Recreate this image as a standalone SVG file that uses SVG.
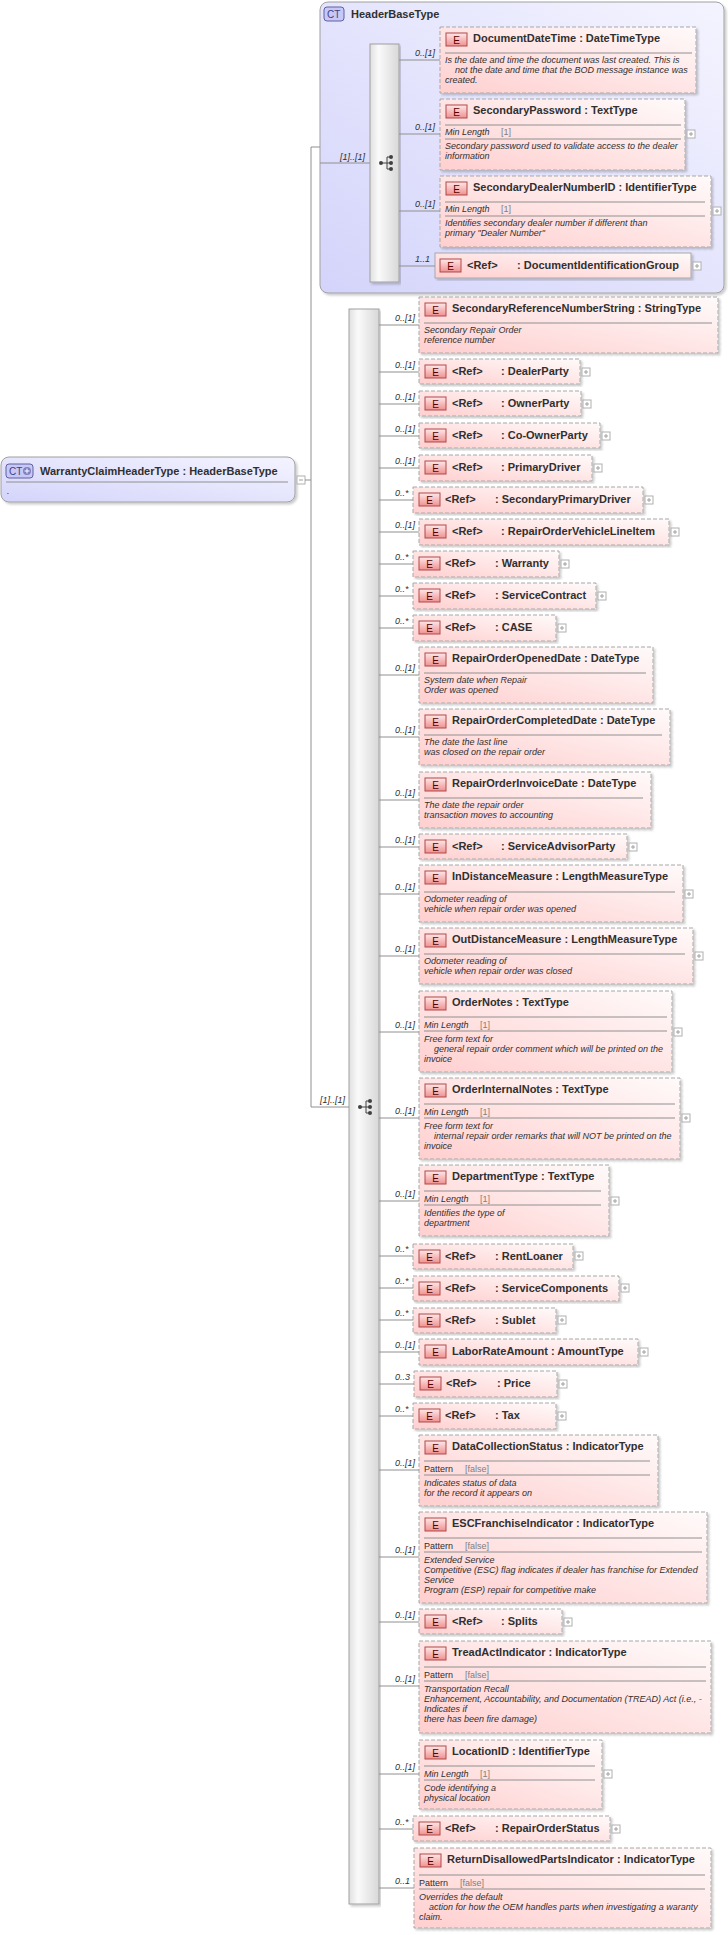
<svg xmlns="http://www.w3.org/2000/svg" xmlns:xlink="http://www.w3.org/1999/xlink" width="728" height="1935" viewBox="0 0 728 1935">
<style>
.el{fill:url(#eg);stroke:#a8a8a8;stroke-dasharray:4 2}
.sol{stroke-dasharray:none}
.ei{fill:url(#eig);stroke:#b04848}
.eit{font:10px "Liberation Sans",Arial,sans-serif;text-anchor:middle;fill:#500}
.t{font:bold 11px "Liberation Sans",Arial,sans-serif;fill:#303030}
.d{font:italic 9px "Liberation Sans",Arial,sans-serif;fill:#303030}
.fv{font:9px "Liberation Sans",Arial,sans-serif;fill:#808080}
.sep{stroke:#909090}
.c{stroke:#909090;fill:none}
.lab{font:italic 9px "Liberation Sans",Arial,sans-serif;fill:#303030}
.seq{fill:url(#sg);stroke:#a0a0a0}
.ct{fill:url(#cg);stroke:#a0a0a0}
</style>
<defs>
<linearGradient id="eg" x1="0" y1="1" x2="1" y2="0"><stop offset="0" stop-color="#ffcfcf"/><stop offset="1" stop-color="#fffafa"/></linearGradient>
<linearGradient id="eig" x1="0" y1="0" x2="0" y2="1"><stop offset="0" stop-color="#ffe8e8"/><stop offset="1" stop-color="#f09090"/></linearGradient>
<linearGradient id="sg" x1="0" y1="0" x2="1" y2="0"><stop offset="0" stop-color="#e0e0e0"/><stop offset="0.3" stop-color="#fafafa"/><stop offset="1" stop-color="#d8d8d8"/></linearGradient>
<linearGradient id="cg" x1="0" y1="1" x2="1" y2="0"><stop offset="0" stop-color="#d4d4fb"/><stop offset="1" stop-color="#f4f4ff"/></linearGradient>
<g id="pl"><rect x="0" y="0" width="8" height="8" fill="#fff" stroke="#b0b0b0"/><path d="M2 4h4M4 2v4" stroke="#a0a0a0"/></g>
<g id="sqi"><circle cx="-6" cy="0" r="2" fill="#404040"/><path d="M-6 0h6M0 -6v12M0 -6h4M0 0h4M0 6h4" stroke="#404040" fill="none"/><circle cx="4" cy="-6" r="2" fill="#404040"/><circle cx="4" cy="0" r="2" fill="#404040"/><circle cx="4" cy="6" r="2" fill="#404040"/></g>
<filter id="sh" x="-5%" y="-5%" width="110%" height="115%"><feDropShadow dx="2" dy="2" stdDeviation="1" flood-color="#000" flood-opacity="0.2"/></filter>
</defs>

<g id="WarrantyClaimHeaderType">
<rect x="1" y="457" width="294" height="45" rx="8" class="ct" filter="url(#sh)"/>
<rect x="6" y="464" width="27" height="14" rx="3" fill="#c8c8f8" stroke="#6060a0"/>
<text x="9" y="475" style="font:10px 'Liberation Sans',Arial,sans-serif;fill:#404080">CT</text>
<circle cx="27" cy="471" r="4" fill="#8080c0"/><path d="M24.5 471h5M27 468.5v5" stroke="#fff"/>
<text class="t" x="40" y="475">WarrantyClaimHeaderType : HeaderBaseType</text>
<line class="sep" x1="6" y1="482" x2="288" y2="482"/>
<text class="d" x="7" y="494">.</text>
<rect x="297" y="476" width="8" height="8" fill="#fff" stroke="#b0b0b0"/><path d="M299 480h4" stroke="#a0a0a0"/>
</g>

<g id="HeaderBaseType">
<rect x="320" y="2" width="404" height="291" rx="8" class="ct" filter="url(#sh)"/>
<rect x="324" y="7" width="20" height="14" rx="3" fill="#c8c8f8" stroke="#6060a0"/>
<text x="327" y="18" style="font:10px 'Liberation Sans',Arial,sans-serif;fill:#404080">CT</text>
<text class="t" x="351" y="18">HeaderBaseType</text>
</g>
<g id="seq1"><rect class="seq" x="370" y="44" width="29" height="238" filter="url(#sh)"/><use xlink:href="#sqi" x="387" y="163"/></g>
<g id="seq2"><rect class="seq" x="349" y="309" width="30" height="1595" filter="url(#sh)"/><use xlink:href="#sqi" x="366" y="1107"/></g>

<g id="DocumentDateTime"><rect class="el" x="440" y="27" width="256" height="66" filter="url(#sh)"/><rect class="ei" x="446" y="33" width="21" height="13"/><text class="eit" x="456.5" y="43.5">E</text><text class="t" x="473" y="42">DocumentDateTime : DateTimeType</text><line class="sep" x1="445" y1="53" x2="692" y2="53"/><text class="d" x="445" y="63">Is the date and time the document was last created. This is</text><text class="d" x="455" y="73">not the date and time that the BOD message instance was</text><text class="d" x="445" y="83">created.</text></g>
<g id="SecondaryPassword"><rect class="el" x="440" y="99" width="245" height="71" filter="url(#sh)"/><rect class="ei" x="446" y="105" width="21" height="13"/><text class="eit" x="456.5" y="115.5">E</text><text class="t" x="473" y="114">SecondaryPassword : TextType</text><line class="sep" x1="445" y1="125" x2="681" y2="125"/><text class="d" x="445" y="135">Min Length</text><text class="fv" x="501" y="135">[1]</text><line class="sep" x1="445" y1="139" x2="681" y2="139"/><text class="d" x="445" y="149">Secondary password used to validate access to the dealer</text><text class="d" x="445" y="159">information</text><use xlink:href="#pl" x="687" y="130"/></g>
<g id="SecondaryDealerNumberID"><rect class="el" x="440" y="176" width="271" height="71" filter="url(#sh)"/><rect class="ei" x="446" y="182" width="21" height="13"/><text class="eit" x="456.5" y="192.5">E</text><text class="t" x="473" y="191">SecondaryDealerNumberID : IdentifierType</text><line class="sep" x1="445" y1="202" x2="705" y2="202"/><text class="d" x="445" y="212">Min Length</text><text class="fv" x="501" y="212">[1]</text><line class="sep" x1="445" y1="216" x2="705" y2="216"/><text class="d" x="445" y="226">Identifies secondary dealer number if different than</text><text class="d" x="445" y="236">primary "Dealer Number"</text><use xlink:href="#pl" x="713" y="207"/></g>
<g id="DocumentIdentificationGroup"><rect class="el sol" x="435" y="253" width="256" height="25" filter="url(#sh)"/><rect class="ei" x="440" y="259" width="21" height="13"/><text class="eit" x="450.5" y="269.5">E</text><text class="t" x="467" y="269">&lt;Ref&gt;</text><text class="t" x="517" y="269">: DocumentIdentificationGroup</text><use xlink:href="#pl" x="693" y="262"/></g>

<g id="SecondaryReferenceNumberString"><rect class="el" x="419" y="297" width="299" height="56" filter="url(#sh)"/><rect class="ei" x="425" y="303" width="21" height="13"/><text class="eit" x="435.5" y="313.5">E</text><text class="t" x="452" y="312">SecondaryReferenceNumberString : StringType</text><line class="sep" x1="424" y1="323" x2="712" y2="323"/><text class="d" x="424" y="333">Secondary Repair Order</text><text class="d" x="424" y="343">reference number</text></g>

<g id="DealerParty"><rect class="el" x="419" y="359" width="161" height="25" filter="url(#sh)"/><rect class="ei" x="425" y="365" width="21" height="13"/><text class="eit" x="435.5" y="375.5">E</text><text class="t" x="452" y="375">&lt;Ref&gt;</text><text class="t" x="501" y="375">: DealerParty</text><use xlink:href="#pl" x="582" y="368"/></g>
<g id="OwnerParty"><rect class="el" x="419" y="391" width="162" height="25" filter="url(#sh)"/><rect class="ei" x="425" y="397" width="21" height="13"/><text class="eit" x="435.5" y="407.5">E</text><text class="t" x="452" y="407">&lt;Ref&gt;</text><text class="t" x="501" y="407">: OwnerParty</text><use xlink:href="#pl" x="583" y="400"/></g>
<g id="Co-OwnerParty"><rect class="el" x="419" y="423" width="181" height="25" filter="url(#sh)"/><rect class="ei" x="425" y="429" width="21" height="13"/><text class="eit" x="435.5" y="439.5">E</text><text class="t" x="452" y="439">&lt;Ref&gt;</text><text class="t" x="501" y="439">: Co-OwnerParty</text><use xlink:href="#pl" x="602" y="432"/></g>
<g id="PrimaryDriver"><rect class="el" x="419" y="455" width="173" height="26" filter="url(#sh)"/><rect class="ei" x="425" y="461" width="21" height="13"/><text class="eit" x="435.5" y="471.5">E</text><text class="t" x="452" y="471">&lt;Ref&gt;</text><text class="t" x="501" y="471">: PrimaryDriver</text><use xlink:href="#pl" x="594" y="464"/></g>
<g id="SecondaryPrimaryDriver"><rect class="el" x="413" y="487" width="230" height="26" filter="url(#sh)"/><rect class="ei" x="419" y="493" width="21" height="13"/><text class="eit" x="429.5" y="503.5">E</text><text class="t" x="445" y="503">&lt;Ref&gt;</text><text class="t" x="495" y="503">: SecondaryPrimaryDriver</text><use xlink:href="#pl" x="645" y="496"/></g>
<g id="RepairOrderVehicleLineItem"><rect class="el" x="419" y="519" width="250" height="26" filter="url(#sh)"/><rect class="ei" x="425" y="525" width="21" height="13"/><text class="eit" x="435.5" y="535.5">E</text><text class="t" x="452" y="535">&lt;Ref&gt;</text><text class="t" x="501" y="535">: RepairOrderVehicleLineItem</text><use xlink:href="#pl" x="671" y="528"/></g>
<g id="Warranty"><rect class="el" x="413" y="551" width="146" height="26" filter="url(#sh)"/><rect class="ei" x="419" y="557" width="21" height="13"/><text class="eit" x="429.5" y="567.5">E</text><text class="t" x="445" y="567">&lt;Ref&gt;</text><text class="t" x="495" y="567">: Warranty</text><use xlink:href="#pl" x="561" y="560"/></g>
<g id="ServiceContract"><rect class="el" x="413" y="583" width="183" height="26" filter="url(#sh)"/><rect class="ei" x="419" y="589" width="21" height="13"/><text class="eit" x="429.5" y="599.5">E</text><text class="t" x="445" y="599">&lt;Ref&gt;</text><text class="t" x="495" y="599">: ServiceContract</text><use xlink:href="#pl" x="598" y="592"/></g>
<g id="CASE"><rect class="el" x="413" y="615" width="143" height="26" filter="url(#sh)"/><rect class="ei" x="419" y="621" width="21" height="13"/><text class="eit" x="429.5" y="631.5">E</text><text class="t" x="445" y="631">&lt;Ref&gt;</text><text class="t" x="495" y="631">: CASE</text><use xlink:href="#pl" x="558" y="624"/></g>

<g id="RepairOrderOpenedDate"><rect class="el" x="419" y="647" width="234" height="56" filter="url(#sh)"/><rect class="ei" x="425" y="653" width="21" height="13"/><text class="eit" x="435.5" y="663.5">E</text><text class="t" x="452" y="662">RepairOrderOpenedDate : DateType</text><line class="sep" x1="424" y1="673" x2="646" y2="673"/><text class="d" x="424" y="683">System date when Repair</text><text class="d" x="424" y="693">Order was opened</text></g>
<g id="RepairOrderCompletedDate"><rect class="el" x="419" y="709" width="251" height="56" filter="url(#sh)"/><rect class="ei" x="425" y="715" width="21" height="13"/><text class="eit" x="435.5" y="725.5">E</text><text class="t" x="452" y="724">RepairOrderCompletedDate : DateType</text><line class="sep" x1="424" y1="735" x2="662" y2="735"/><text class="d" x="424" y="745">The date the last line</text><text class="d" x="424" y="755">was closed on the repair order</text></g>
<g id="RepairOrderInvoiceDate"><rect class="el" x="419" y="772" width="232" height="56" filter="url(#sh)"/><rect class="ei" x="425" y="778" width="21" height="13"/><text class="eit" x="435.5" y="788.5">E</text><text class="t" x="452" y="787">RepairOrderInvoiceDate : DateType</text><line class="sep" x1="424" y1="798" x2="643" y2="798"/><text class="d" x="424" y="808">The date the repair order</text><text class="d" x="424" y="818">transaction moves to accounting</text></g>
<g id="ServiceAdvisorParty"><rect class="el" x="419" y="834" width="208" height="25" filter="url(#sh)"/><rect class="ei" x="425" y="840" width="21" height="13"/><text class="eit" x="435.5" y="850.5">E</text><text class="t" x="452" y="850">&lt;Ref&gt;</text><text class="t" x="501" y="850">: ServiceAdvisorParty</text><use xlink:href="#pl" x="629" y="843"/></g>
<g id="InDistanceMeasure"><rect class="el" x="419" y="865" width="264" height="57" filter="url(#sh)"/><rect class="ei" x="425" y="871" width="21" height="13"/><text class="eit" x="435.5" y="881.5">E</text><text class="t" x="452" y="880">InDistanceMeasure : LengthMeasureType</text><line class="sep" x1="424" y1="892" x2="675" y2="892"/><text class="d" x="424" y="902">Odometer reading of</text><text class="d" x="424" y="912">vehicle when repair order was opened</text><use xlink:href="#pl" x="685" y="890"/></g>
<g id="OutDistanceMeasure"><rect class="el" x="419" y="928" width="274" height="56" filter="url(#sh)"/><rect class="ei" x="425" y="934" width="21" height="13"/><text class="eit" x="435.5" y="944.5">E</text><text class="t" x="452" y="943">OutDistanceMeasure : LengthMeasureType</text><line class="sep" x1="424" y1="954" x2="685" y2="954"/><text class="d" x="424" y="964">Odometer reading of</text><text class="d" x="424" y="974">vehicle when repair order was closed</text><use xlink:href="#pl" x="695" y="952"/></g>
<g id="OrderNotes"><rect class="el" x="419" y="991" width="253" height="81" filter="url(#sh)"/><rect class="ei" x="425" y="997" width="21" height="13"/><text class="eit" x="435.5" y="1007.5">E</text><text class="t" x="452" y="1006">OrderNotes : TextType</text><line class="sep" x1="424" y1="1017" x2="667" y2="1017"/><text class="d" x="424" y="1028">Min Length</text><text class="fv" x="480" y="1028">[1]</text><line class="sep" x1="424" y1="1031" x2="667" y2="1031"/><text class="d" x="424" y="1042">Free form text for</text><text class="d" x="434" y="1052">general repair order comment which will be printed on the</text><text class="d" x="424" y="1062">invoice</text><use xlink:href="#pl" x="674" y="1028"/></g>
<g id="OrderInternalNotes"><rect class="el" x="419" y="1078" width="261" height="81" filter="url(#sh)"/><rect class="ei" x="425" y="1084" width="21" height="13"/><text class="eit" x="435.5" y="1094.5">E</text><text class="t" x="452" y="1093">OrderInternalNotes : TextType</text><line class="sep" x1="424" y1="1104" x2="675" y2="1104"/><text class="d" x="424" y="1115">Min Length</text><text class="fv" x="480" y="1115">[1]</text><line class="sep" x1="424" y1="1118" x2="675" y2="1118"/><text class="d" x="424" y="1129">Free form text for</text><text class="d" x="434" y="1139">internal repair order remarks that will NOT be printed on the</text><text class="d" x="424" y="1149">invoice</text><use xlink:href="#pl" x="682" y="1114"/></g>
<g id="DepartmentType"><rect class="el" x="419" y="1165" width="190" height="71" filter="url(#sh)"/><rect class="ei" x="425" y="1171" width="21" height="13"/><text class="eit" x="435.5" y="1181.5">E</text><text class="t" x="452" y="1180">DepartmentType : TextType</text><line class="sep" x1="424" y1="1191" x2="601" y2="1191"/><text class="d" x="424" y="1202">Min Length</text><text class="fv" x="480" y="1202">[1]</text><line class="sep" x1="424" y1="1205" x2="601" y2="1205"/><text class="d" x="424" y="1216">Identifies the type of</text><text class="d" x="424" y="1226">department</text><use xlink:href="#pl" x="611" y="1197"/></g>
<g id="RentLoaner"><rect class="el" x="413" y="1244" width="160" height="25" filter="url(#sh)"/><rect class="ei" x="419" y="1250" width="21" height="13"/><text class="eit" x="429.5" y="1260.5">E</text><text class="t" x="445" y="1260">&lt;Ref&gt;</text><text class="t" x="495" y="1260">: RentLoaner</text><use xlink:href="#pl" x="575" y="1252"/></g>
<g id="ServiceComponents"><rect class="el" x="413" y="1276" width="206" height="25" filter="url(#sh)"/><rect class="ei" x="419" y="1282" width="21" height="13"/><text class="eit" x="429.5" y="1292.5">E</text><text class="t" x="445" y="1292">&lt;Ref&gt;</text><text class="t" x="495" y="1292">: ServiceComponents</text><use xlink:href="#pl" x="621" y="1284"/></g>
<g id="Sublet"><rect class="el" x="413" y="1308" width="143" height="25" filter="url(#sh)"/><rect class="ei" x="419" y="1314" width="21" height="13"/><text class="eit" x="429.5" y="1324.5">E</text><text class="t" x="445" y="1324">&lt;Ref&gt;</text><text class="t" x="495" y="1324">: Sublet</text><use xlink:href="#pl" x="558" y="1316"/></g>
<g id="LaborRateAmount"><rect class="el" x="419" y="1339" width="219" height="26" filter="url(#sh)"/><rect class="ei" x="425" y="1345" width="21" height="13"/><text class="eit" x="435.5" y="1355.5">E</text><text class="t" x="452" y="1355">LaborRateAmount : AmountType</text><use xlink:href="#pl" x="640" y="1348"/></g>
<g id="Price"><rect class="el" x="414" y="1371" width="143" height="26" filter="url(#sh)"/><rect class="ei" x="420" y="1377" width="21" height="13"/><text class="eit" x="430.5" y="1387.5">E</text><text class="t" x="446" y="1387">&lt;Ref&gt;</text><text class="t" x="497" y="1387">: Price</text><use xlink:href="#pl" x="559" y="1380"/></g>
<g id="Tax"><rect class="el" x="413" y="1403" width="143" height="26" filter="url(#sh)"/><rect class="ei" x="419" y="1409" width="21" height="13"/><text class="eit" x="429.5" y="1419.5">E</text><text class="t" x="445" y="1419">&lt;Ref&gt;</text><text class="t" x="495" y="1419">: Tax</text><use xlink:href="#pl" x="558" y="1412"/></g>
<g id="DataCollectionStatus"><rect class="el" x="419" y="1435" width="239" height="71" filter="url(#sh)"/><rect class="ei" x="425" y="1441" width="21" height="13"/><text class="eit" x="435.5" y="1451.5">E</text><text class="t" x="452" y="1450">DataCollectionStatus : IndicatorType</text><line class="sep" x1="424" y1="1461" x2="650" y2="1461"/><text class="d" x="424" y="1472" style="font-style:normal">Pattern</text><text class="fv" x="465" y="1472">[false]</text><line class="sep" x1="424" y1="1475" x2="650" y2="1475"/><text class="d" x="424" y="1486">Indicates status of data</text><text class="d" x="424" y="1496">for the record it appears on</text></g>
<g id="ESCFranchiseIndicator"><rect class="el" x="419" y="1512" width="288" height="91" filter="url(#sh)"/><rect class="ei" x="425" y="1518" width="21" height="13"/><text class="eit" x="435.5" y="1528.5">E</text><text class="t" x="452" y="1527">ESCFranchiseIndicator : IndicatorType</text><line class="sep" x1="424" y1="1538" x2="702" y2="1538"/><text class="d" x="424" y="1549" style="font-style:normal">Pattern</text><text class="fv" x="465" y="1549">[false]</text><line class="sep" x1="424" y1="1552" x2="702" y2="1552"/><text class="d" x="424" y="1563">Extended Service</text><text class="d" x="424" y="1573">Competitive (ESC) flag indicates if dealer has franchise for Extended</text><text class="d" x="424" y="1583">Service</text><text class="d" x="424" y="1593">Program (ESP) repair for competitive make</text></g>
<g id="Splits"><rect class="el" x="419" y="1609" width="143" height="25" filter="url(#sh)"/><rect class="ei" x="425" y="1615" width="21" height="13"/><text class="eit" x="435.5" y="1625.5">E</text><text class="t" x="452" y="1625">&lt;Ref&gt;</text><text class="t" x="501" y="1625">: Splits</text><use xlink:href="#pl" x="564" y="1618"/></g>
<g id="TreadActIndicator"><rect class="el" x="419" y="1641" width="292" height="92" filter="url(#sh)"/><rect class="ei" x="425" y="1647" width="21" height="13"/><text class="eit" x="435.5" y="1657.5">E</text><text class="t" x="452" y="1656">TreadActIndicator : IndicatorType</text><line class="sep" x1="424" y1="1667" x2="706" y2="1667"/><text class="d" x="424" y="1678" style="font-style:normal">Pattern</text><text class="fv" x="465" y="1678">[false]</text><line class="sep" x1="424" y1="1681" x2="706" y2="1681"/><text class="d" x="424" y="1692">Transportation Recall</text><text class="d" x="424" y="1702">Enhancement, Accountability, and Documentation (TREAD) Act (i.e., -</text><text class="d" x="424" y="1712">Indicates if</text><text class="d" x="424" y="1722">there has been fire damage)</text></g>
<g id="LocationID"><rect class="el" x="419" y="1740" width="183" height="69" filter="url(#sh)"/><rect class="ei" x="425" y="1746" width="21" height="13"/><text class="eit" x="435.5" y="1756.5">E</text><text class="t" x="452" y="1755">LocationID : IdentifierType</text><line class="sep" x1="424" y1="1766" x2="595" y2="1766"/><text class="d" x="424" y="1777">Min Length</text><text class="fv" x="480" y="1777">[1]</text><line class="sep" x1="424" y1="1780" x2="595" y2="1780"/><text class="d" x="424" y="1791">Code identifying a</text><text class="d" x="424" y="1801">physical location</text><use xlink:href="#pl" x="604" y="1770"/></g>
<g id="RepairOrderStatus"><rect class="el" x="413" y="1816" width="197" height="25" filter="url(#sh)"/><rect class="ei" x="419" y="1822" width="21" height="13"/><text class="eit" x="429.5" y="1832.5">E</text><text class="t" x="445" y="1832">&lt;Ref&gt;</text><text class="t" x="495" y="1832">: RepairOrderStatus</text><use xlink:href="#pl" x="612" y="1825"/></g>
<g id="ReturnDisallowedPartsIndicator"><rect class="el" x="414" y="1848" width="297" height="80" filter="url(#sh)"/><rect class="ei" x="420" y="1854" width="21" height="13"/><text class="eit" x="430.5" y="1864.5">E</text><text class="t" x="447" y="1863">ReturnDisallowedPartsIndicator : IndicatorType</text><line class="sep" x1="419" y1="1875" x2="705" y2="1875"/><text class="d" x="419" y="1886" style="font-style:normal">Pattern</text><text class="fv" x="460" y="1886">[false]</text><line class="sep" x1="419" y1="1889" x2="705" y2="1889"/><text class="d" x="419" y="1900">Overrides the default</text><text class="d" x="429" y="1910">action for how the OEM handles parts when investigating a waranty</text><text class="d" x="419" y="1920">claim.</text></g>

<g id="connectors">
<path class="c" d="M305 480H311M311 147V1107M311 147H320M320 163H370M311 1107H349"/>
<path class="c" d="M399 60H440M399 134H440M399 211H440M399 266H435"/>
<path class="c" d="M379 325H419M379 372H419M379 404H419M379 436H419M379 468H419M379 500H413M379 532H419M379 564H413M379 596H413M379 628H413M379 675H419M379 737H419M379 800H419M379 847H419M379 894H419M379 956H419M379 1032H419M379 1118H419M379 1201H419M379 1256H413M379 1288H413M379 1320H413M379 1352H419M379 1384H414M379 1416H413M379 1470H419M379 1557H419M379 1622H419M379 1686H419M379 1774H419M379 1829H413M379 1888H414"/>
<g class="lab">
<text x="340" y="160">[1]..[1]</text><text x="320" y="1103">[1]..[1]</text>
<text x="415" y="56">0..[1]</text><text x="415" y="130">0..[1]</text><text x="415" y="207">0..[1]</text><text x="415" y="262">1..1</text>
<text x="395" y="321">0..[1]</text><text x="395" y="368">0..[1]</text><text x="395" y="400">0..[1]</text><text x="395" y="432">0..[1]</text><text x="395" y="464">0..[1]</text><text x="395" y="496">0..*</text><text x="395" y="528">0..[1]</text><text x="395" y="560">0..*</text><text x="395" y="592">0..*</text><text x="395" y="624">0..*</text><text x="395" y="671">0..[1]</text><text x="395" y="733">0..[1]</text><text x="395" y="796">0..[1]</text><text x="395" y="843">0..[1]</text><text x="395" y="890">0..[1]</text><text x="395" y="952">0..[1]</text><text x="395" y="1028">0..[1]</text><text x="395" y="1114">0..[1]</text><text x="395" y="1197">0..[1]</text><text x="395" y="1252">0..*</text><text x="395" y="1284">0..*</text><text x="395" y="1316">0..*</text><text x="395" y="1348">0..[1]</text><text x="395" y="1380">0..3</text><text x="395" y="1412">0..*</text><text x="395" y="1466">0..[1]</text><text x="395" y="1553">0..[1]</text><text x="395" y="1618">0..[1]</text><text x="395" y="1682">0..[1]</text><text x="395" y="1770">0..[1]</text><text x="395" y="1825">0..*</text><text x="395" y="1884">0..1</text>
</g>
</g>
</svg>
